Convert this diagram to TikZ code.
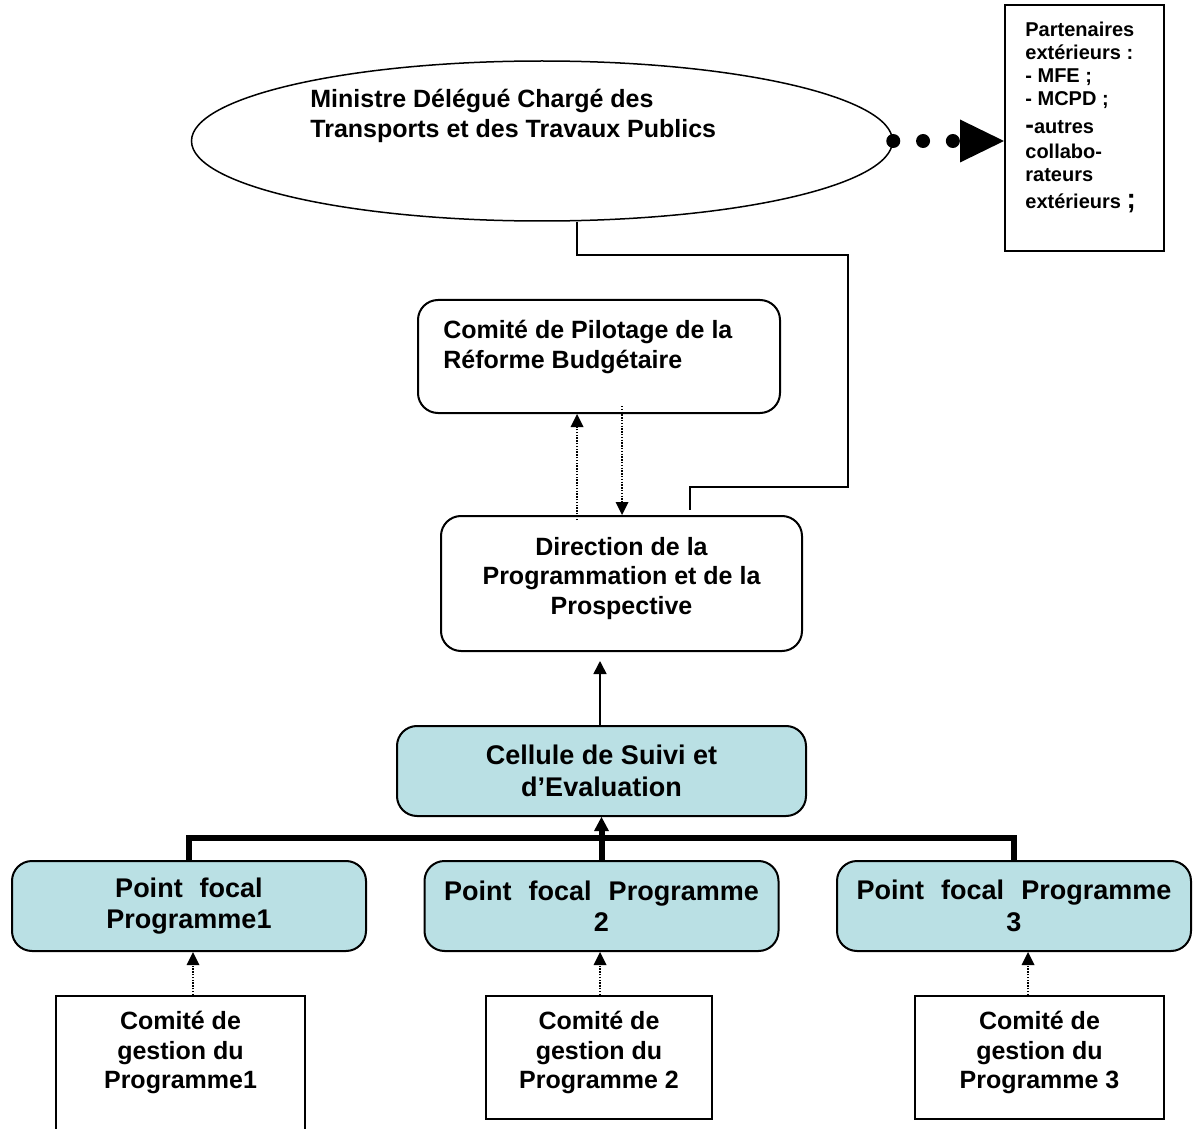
\documentclass[tikz,border=0pt]{standalone}
\usepackage{fontspec}
\setmainfont{Liberation Sans}
\usetikzlibrary{shapes.geometric, arrows.meta}
\definecolor{focalblue}{RGB}{186,224,228}

\tikzset{
  textmain/.style={font=\fontsize{12.5}{14.75}\selectfont\bfseries},
  textbig/.style={font=\fontsize{13.5}{15.75}\selectfont\bfseries},
  textsmall/.style={font=\fontsize{10}{11.5}\selectfont\bfseries},
  roundbox/.style={draw, line width=1pt, rounded corners=10pt, inner sep=0pt},
  focalbox/.style={roundbox, fill=focalblue, textbig, align=center},
  plainbox/.style={draw, line width=1pt, inner sep=0pt},
  boxtext/.style={textmain, inner sep=0pt},
  link/.style={line width=0.8pt},
  dotlink/.style={line width=0.8pt, dash pattern=on 0.7pt off 0.7pt,
    -{Triangle[length=6.5pt, width=6.5pt, line width=0pt]}},
  bigdots/.style={line width=7pt, line cap=round, dash pattern=on 0pt off 14.9pt,
    -{Triangle[length=22pt, width=21.5pt, line width=0pt]}},
  bus/.style={line width=3pt},
}

\begin{document}
\begin{tikzpicture}[x=0.5pt, y=-0.5pt]
  \useasboundingbox (0,0) rectangle (1196,1129);

  % Ministre and outside partners
  \node (ministre) [ellipse, draw, line width=0.75pt, inner sep=0pt,
    minimum width=350.5pt, minimum height=80pt] at (542,141) {};
  \node (ministreText) [boxtext, anchor=west, align=left] at (310,116)
    {Ministre Délégué Chargé des\\Transports et des Travaux Publics};
  \node (partners) [plainbox, minimum width=79.5pt, minimum height=123pt] at (1084.5,128) {};
  \node (partnersText) [textsmall, inner sep=0pt, anchor=north west, align=left] at (1025,22)
    {Partenaires\\extérieurs :\\- MFE ;\\- MCPD ;\\[2.5pt]{\fontsize{13}{11.5}\selectfont -}autres\\[1pt]collabo-\\rateurs\\[2pt]extérieurs {\fontsize{14}{11.5}\selectfont ;}};

  % Pilotage and Direction
  \node (pilotage) [roundbox, minimum width=181pt, minimum height=56.5pt] at (599,356.5) {};
  \node (pilotageText) [boxtext, anchor=west, align=left] at (443,347)
    {Comité de Pilotage de la\\Réforme Budgétaire};
  \node (direction) [roundbox, minimum width=180.5pt, minimum height=67.5pt] at (621.5,583.5) {};
  \node (directionText) [boxtext, align=center] at (621.5,578.5)
    {Direction de la\\Programmation et de la\\Prospective};

  % Cellule and focal points
  \node (cellule) [focalbox, minimum width=204.5pt, minimum height=45pt] at (601.5,771)
    {Cellule de Suivi et\\d’Evaluation};
  \foreach \i/\x/\txt in {1/189/{Point\hspace{0.63em}focal\\Programme1},
                          2/601.5/{Point\hspace{0.63em}focal\hspace{0.63em}Programme\\2},
                          3/1014/{Point\hspace{0.63em}focal\hspace{0.63em}Programme\\3}} {
    \node (pf\i) [focalbox, minimum width=177pt, minimum height=45pt] at (\x,906) {\txt};
  }

  % Comités de gestion
  \node (cg1) [plainbox, minimum width=124.5pt, minimum height=77pt] at (180.5,1073) {};
  \node (cg2) [plainbox, minimum width=113pt, minimum height=61.5pt] at (599,1057.5) {};
  \node (cg3) [plainbox, minimum width=124.5pt, minimum height=61.5pt] at (1039.5,1057.5) {};
  \node (cg1Text) [boxtext, align=center] at (180.5,1052.5) {Comité de\\gestion du\\Programme1};
  \node (cg2Text) [boxtext, align=center] at (599,1052.5) {Comité de\\gestion du\\Programme 2};
  \node (cg3Text) [boxtext, align=center] at (1039.5,1052.5) {Comité de\\gestion du\\Programme 3};

  % connectors
  \draw[bigdots] (ministre.east) -- (ministre.east -| partners.west);
  \draw[link, shorten >=2.5pt] (ministre.south -| 577,0) |- (848,255) |- (690,487)
    -- (direction.north -| 690,0);
  \draw[dotlink, shorten <=-2.5pt] (direction.north -| 577,0) -- (pilotage.south -| 577,0);
  \draw[dotlink, shorten <=-4pt] (pilotage.south -| 622,0) -- (direction.north -| 622,0);
  \draw[link, -{Triangle[length=6.5pt, width=6.5pt]}, shorten >=4.5pt]
    (cellule.north -| 600,0) -- (direction.south -| 600,0);

  \coordinate (busMid) at (601.5,838);
  \draw[bus] (pf1.north) |- (busMid) -| (pf3.north);
  \draw[bus, -{Triangle[length=7pt, width=7.5pt, line width=0pt]}] (pf2.north) -- (cellule.south);

  \foreach \i/\x in {1/193, 2/600, 3/1028}
    \draw[dotlink] (cg\i.north -| \x,0) -- (pf\i.south -| \x,0);
\end{tikzpicture}
\end{document}
